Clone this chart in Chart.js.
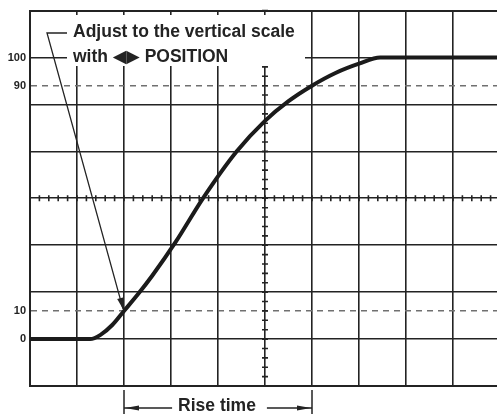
<!DOCTYPE html>
<html>
<head>
<meta charset="utf-8">
<script src="https://cdn.jsdelivr.net/npm/chart.js@4"></script>
<style>
  html, body { margin: 0; padding: 0; background: #fff; overflow: hidden; }
  canvas { display: block; }
</style>
</head>
<body>
<canvas id="scope" width="500" height="415"></canvas>
<script>
// step response: x in divisions, y in % of step height
const timeDiv  = [0, 1.28, 1.5, 1.75, 2.0, 2.3, 2.6, 3.1, 3.68, 4.4, 5.0, 5.5, 6.0, 6.5, 7.0, 7.45, 10];
const levelPct = [0, 0, 1.5, 5, 10, 16, 22.5, 34.5, 50, 66.7, 77.5, 84.5, 90, 94.5, 97.8, 100, 100];

// labelled levels on the left edge
const levelMarks  = [0, 10, 90, 100];
const levelLabels = ['0', '10', '90', '100'];
const dashedLevels = [10, 90];

// annotation text
const noteLines = ['Adjust to the vertical scale', 'with \u25C0\u25B6 POSITION'];
const riseLabel = 'Rise time';
const riseFrom = 2, riseTo = 6; // divisions

const DIV = 100 / 6; // one vertical division in %
const INK = '#232323';

const overlay = {
  id: 'overlay',
  beforeDatasetsDraw(chart) {
    const { ctx, scales: { x, y } } = chart;
    ctx.save();
    ctx.strokeStyle = INK;
    ctx.lineWidth = 1.6;
    const cx = x.getPixelForValue(5), cy = y.getPixelForValue(50);
    ctx.beginPath();
    for (let k = 0; k <= 40; k++) {
      const py = y.getPixelForValue(-DIV + k * DIV / 5);
      ctx.moveTo(cx - 3, py); ctx.lineTo(cx + 3, py);
    }
    for (let k = 0; k <= 50; k++) {
      const px = x.getPixelForValue(k * 0.2);
      ctx.moveTo(px, cy - 3); ctx.lineTo(px, cy + 3);
    }
    ctx.stroke();
    // white box behind the note
    ctx.fillStyle = '#fff';
    ctx.fillRect(67, 15, 238, 51);
    ctx.restore();
  },
  afterDatasetsDraw(chart) {
    const { ctx, scales: { x, y } } = chart;
    ctx.save();
    ctx.fillStyle = INK;
    ctx.strokeStyle = INK;
    ctx.font = 'bold 17.5px "Liberation Sans", "DejaVu Sans", sans-serif';
    ctx.textBaseline = 'alphabetic';
    ctx.fillText(noteLines[0], 73, 37);
    ctx.fillText(noteLines[1], 73, 62);

    // leader to the 10% crossing
    const tx = x.getPixelForValue(riseFrom) - 1, ty = y.getPixelForValue(10) - 2;
    ctx.lineWidth = 1.3;
    ctx.beginPath();
    ctx.moveTo(67, 33); ctx.lineTo(47, 33); ctx.lineTo(tx, ty);
    ctx.stroke();
    const dx = tx - 47, dy = ty - 33, len = Math.hypot(dx, dy);
    const ux = dx / len, uy = dy / len;
    ctx.beginPath();
    ctx.moveTo(tx, ty);
    ctx.lineTo(tx - ux * 11 - uy * 3, ty - uy * 11 + ux * 3);
    ctx.lineTo(tx - ux * 11 + uy * 3, ty - uy * 11 - ux * 3);
    ctx.closePath();
    ctx.fill();

    // rise time bracket
    const x1 = x.getPixelForValue(riseFrom), x2 = x.getPixelForValue(riseTo);
    const by = 408, mid = (x1 + x2) / 2 - 1;
    ctx.font = 'bold 17.5px "Liberation Sans", sans-serif';
    ctx.textAlign = 'center';
    ctx.fillText(riseLabel, mid, 411);
    const w = ctx.measureText(riseLabel).width;
    ctx.lineWidth = 1.5;
    ctx.beginPath();
    ctx.moveTo(x1, 390); ctx.lineTo(x1, 414);
    ctx.moveTo(x2, 390); ctx.lineTo(x2, 414);
    ctx.moveTo(x1, by); ctx.lineTo(mid - w / 2 - 6, by);
    ctx.moveTo(mid + w / 2 + 11, by); ctx.lineTo(x2, by);
    ctx.stroke();
    ctx.beginPath();
    ctx.moveTo(x1 + 1, by); ctx.lineTo(x1 + 15, by - 2.5); ctx.lineTo(x1 + 15, by + 2.5); ctx.closePath();
    ctx.moveTo(x2 - 1, by); ctx.lineTo(x2 - 15, by - 2.5); ctx.lineTo(x2 - 15, by + 2.5); ctx.closePath();
    ctx.fill();
    ctx.restore();
  }
};

const isDashed = (c) => c.tick && dashedLevels.includes(c.tick.value);

new Chart(document.getElementById('scope'), {
  type: 'line',
  data: {
    datasets: [{
      data: timeDiv.map((t, i) => ({ x: t, y: levelPct[i] })),
      borderColor: '#1b1b1b',
      borderWidth: 4,
      pointRadius: 0,
      cubicInterpolationMode: 'monotone',
      borderCapStyle: 'round',
      borderJoinStyle: 'round'
    }]
  },
  options: {
    responsive: false,
    animation: false,
    devicePixelRatio: 1,
    layout: { padding: { top: 10, bottom: 29, left: 0, right: 0 } },
    plugins: { legend: { display: false }, tooltip: { enabled: false } },
    scales: {
      x: {
        type: 'linear',
        min: 0, max: 10,
        ticks: { display: false, stepSize: 1 },
        grid: { color: INK, lineWidth: 1.6, drawTicks: false },
        border: { color: INK, width: 2 }
      },
      y: {
        type: 'linear',
        min: -DIV, max: 7 * DIV,
        afterBuildTicks(scale) {
          const vals = [-DIV, 0, 10, DIV, 2 * DIV, 50, 4 * DIV, 5 * DIV, 90, 100, 7 * DIV];
          scale.ticks = vals.map(v => ({ value: v }));
        },
        afterFit(scale) { scale.width = 30; },
        ticks: {
          autoSkip: false,
          padding: 4,
          color: INK,
          font: { family: '"Liberation Sans", Arial, sans-serif', size: 11, weight: 'bold' },
          callback: (v) => { const i = levelMarks.indexOf(v); return i < 0 ? '' : levelLabels[i]; }
        },
        grid: {
          drawTicks: false,
          color: (c) => isDashed(c) ? '#707070' : INK,
          lineWidth: (c) => isDashed(c) ? 1.4 : (c.index === 10 ? 2 : 1.6)
        },
        border: {
          color: INK, width: 2,
          dash: (c) => isDashed(c) ? [6, 5] : []
        }
      }
    }
  },
  plugins: [overlay]
});
</script>
</body>
</html>
